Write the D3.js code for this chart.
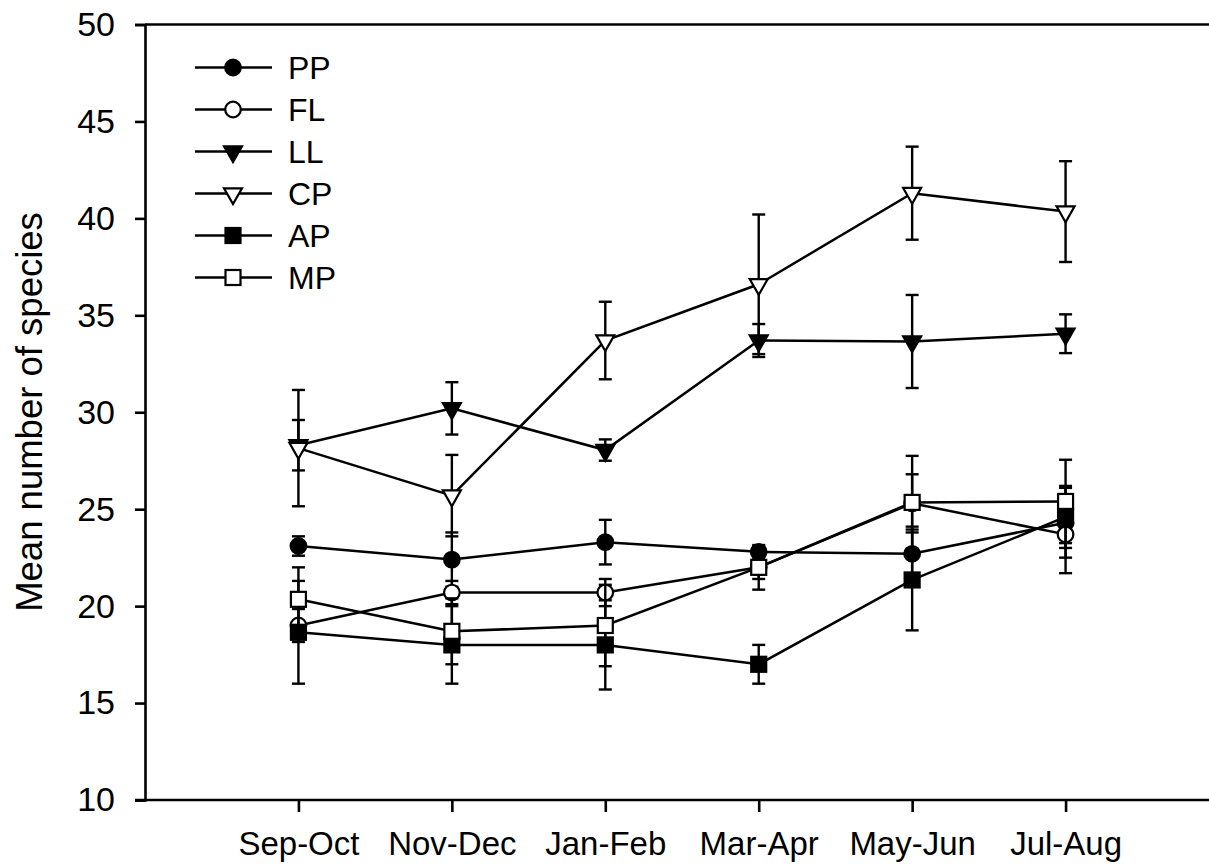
<!DOCTYPE html>
<html>
<head>
<meta charset="utf-8">
<script src="https://cdn.jsdelivr.net/npm/d3@7"></script>
<style>
  html, body { margin: 0; padding: 0; background: #fff; }
  svg { display: block; }
  text { font-family: "Liberation Sans", Arial, sans-serif; fill: #000; }
</style>
</head>
<body>
<svg id="chart" width="1209" height="868"></svg>
<script>
// ---- data ----
const categories = ["Sep-Oct", "Nov-Dec", "Jan-Feb", "Mar-Apr", "May-Jun", "Jul-Aug"];
const seriesNames = ["PP", "FL", "LL", "CP", "AP", "MP"];
const markerTypes = ["circleFilled", "circleOpen", "triFilled", "triOpen", "squareFilled", "squareOpen"];

const ppMean = [23.1, 22.4, 23.3, 22.8, 22.7, 24.3];
const ppErr  = [0.5, 1.4, 1.15, 0.3, 1.4, 1.8];
const flMean = [19.0, 20.7, 20.7, 22.0, 25.3, 23.7];
const flErr  = [0.85, 0.6, 0.7, 0.6, 1.5, 2.0];
const llMean = [28.3, 30.2, 28.05, 33.7, 33.65, 34.05];
const llErr  = [1.3, 1.35, 0.55, 0.85, 2.4, 1.0];
const cpMean = [28.15, 25.7, 33.7, 36.6, 41.3, 40.35];
const cpErr  = [3.0, 2.1, 2.0, 3.6, 2.4, 2.6];
const apMean = [18.65, 18.0, 18.0, 17.0, 21.35, 24.6];
const apErr  = [2.65, 2.0, 2.3, 1.0, 2.6, 1.6];
const mpMean = [20.35, 18.7, 19.0, 22.0, 25.35, 25.4];
const mpErr  = [1.65, 1.7, 2.1, 1.15, 2.4, 2.15];

const yTicks = [10, 15, 20, 25, 30, 35, 40, 45, 50];
const yLabel = "Mean number of species";

(function () {
const means = [ppMean, flMean, llMean, cpMean, apMean, mpMean];
const errs  = [ppErr, flErr, llErr, cpErr, apErr, mpErr];
const series = seriesNames.map((name, i) => ({
  name, marker: markerTypes[i],
  values: categories.map((c, j) => ({ cat: c, mean: means[i][j], err: errs[i][j] }))
}));

// ---- layout ----
const svg = d3.select("#chart");
const mLeft = 145, mRight = 1219, mTop = 24.5, mBottom = 800;

const x = d3.scalePoint().domain(categories).range([mLeft, mRight]).padding(1);
const y = d3.scaleLinear().domain([10, 50]).range([mBottom, mTop]);

// frame line on top (runs past the visible right edge)
svg.append("line").attr("x1", mLeft).attr("x2", 1230).attr("y1", mTop).attr("y2", mTop)
  .attr("stroke", "#000").attr("stroke-width", 2.6);

// Y axis
const yAxis = d3.axisLeft(y).tickValues(yTicks).tickSize(10).tickPadding(20).tickFormat(d3.format("d"));
const gy = svg.append("g").attr("transform", `translate(${mLeft},0)`).call(yAxis);
gy.select(".domain").attr("stroke-width", 2.6);
gy.selectAll(".tick line").attr("stroke-width", 2.6);
gy.selectAll(".tick text").attr("font-size", 34).attr("font-family", "Liberation Sans, Arial, sans-serif");

// X axis
const xAxis = d3.axisBottom(x).tickSize(12).tickPadding(20).tickSizeOuter(0);
const gx = svg.append("g").attr("transform", `translate(0,${mBottom})`).call(xAxis);
gx.select(".domain").attr("d", `M${mLeft - 10},0H1230`).attr("stroke-width", 2.6);
gx.selectAll(".tick line").attr("stroke-width", 2.6);
gx.selectAll(".tick text").attr("font-size", 33).attr("font-family", "Liberation Sans, Arial, sans-serif");

// Y label
svg.append("text")
  .attr("transform", `translate(42,412) rotate(-90)`)
  .attr("text-anchor", "middle")
  .attr("font-size", 36.5)
  .text(yLabel);

// ---- marker drawing ----
function drawMarker(g, type, cx, cy) {
  const filled = type.endsWith("Filled");
  const fill = filled ? "#000" : "#fff";
  if (type.startsWith("circle")) {
    g.append("circle").attr("cx", cx).attr("cy", cy).attr("r", 7.8)
      .attr("fill", fill).attr("stroke", "#000").attr("stroke-width", 2.2);
  } else if (type.startsWith("square")) {
    g.append("rect").attr("x", cx - 7.5).attr("y", cy - 7.5).attr("width", 15).attr("height", 15)
      .attr("fill", fill).attr("stroke", "#000").attr("stroke-width", 2.2);
  } else {
    const w = 9, hTop = 5.2, hBot = 10.6;
    g.append("path")
      .attr("d", `M${cx - w},${cy - hTop}L${cx + w},${cy - hTop}L${cx},${cy + hBot}Z`)
      .attr("fill", fill).attr("stroke", "#000").attr("stroke-width", 2.2).attr("stroke-linejoin", "miter");
  }
}

const line = d3.line().x(d => x(d.cat)).y(d => y(d.mean));
const capW = 6.5;

series.forEach(s => {
  const g = svg.append("g");
  s.values.forEach(d => {
    const cx = x(d.cat), y1 = y(d.mean + d.err), y2 = y(d.mean - d.err);
    g.append("line").attr("x1", cx).attr("x2", cx).attr("y1", y1).attr("y2", y2)
      .attr("stroke", "#000").attr("stroke-width", 2.4);
    [y1, y2].forEach(yy => g.append("line").attr("x1", cx - capW).attr("x2", cx + capW)
      .attr("y1", yy).attr("y2", yy).attr("stroke", "#000").attr("stroke-width", 2.4));
  });
  g.append("path").datum(s.values).attr("d", line)
    .attr("fill", "none").attr("stroke", "#000").attr("stroke-width", 2.5);
  s.values.forEach(d => drawMarker(g, s.marker, x(d.cat), y(d.mean)));
});

// ---- legend ----
const legX1 = 195, legX2 = 272, legMx = 233, legY0 = 67.5, legDy = 42, legTx = 288;
series.forEach((s, i) => {
  const g = svg.append("g");
  const yy = legY0 + i * legDy;
  g.append("line").attr("x1", legX1).attr("x2", legX2).attr("y1", yy).attr("y2", yy)
    .attr("stroke", "#000").attr("stroke-width", 2.5);
  drawMarker(g, s.marker, legMx, yy);
  g.append("text").attr("x", legTx).attr("y", yy).attr("dy", "0.36em")
    .attr("font-size", 32).text(s.name);
});
})();
</script>
</body>
</html>
